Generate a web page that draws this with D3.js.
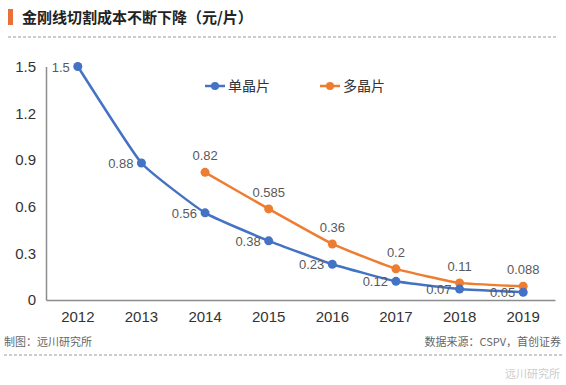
<!DOCTYPE html>
<html>
<head>
<meta charset="utf-8">
<script src="https://cdn.jsdelivr.net/npm/d3@7"></script>
<style>
body { margin: 0; background: #fff; }
svg { font-family: "Noto Sans CJK SC", "Liberation Sans", sans-serif; }
</style>
</head>
<body>
<svg></svg>
<script>
let years = ["2012", "2013", "2014", "2015", "2016", "2017", "2018", "2019"],
mono = [1.5, 0.88, 0.56, 0.38, 0.23, 0.12, 0.07, 0.05],
multi = [null, null, 0.82, 0.585, 0.36, 0.2, 0.11, 0.088],
monoLabels = ["1.5", "0.88", "0.56", "0.38", "0.23", "0.12", "0.07", "0.05"],
multiLabels = ["", "", "0.82", "0.585", "0.36", "0.2", "0.11", "0.088"],
yTicks = [0, 0.3, 0.6, 0.9, 1.2, 1.5],
width = 566,
height = 385,
blue = "#4472C4",
orange = "#ED7D31";

let svg = d3.select("svg")
  .attr("width", width)
  .attr("height", height);

// header
svg.append("rect").attr("x", 8).attr("y", 9).attr("width", 5).attr("height", 16).attr("fill", "#E8703A");
svg.append("text").attr("x", 22).attr("y", 23)
  .attr("font-size", 15).attr("font-weight", "bold").attr("fill", "#222")
  .text("金刚线切割成本不断下降（元/片）");
svg.append("line").attr("x1", 8).attr("x2", 558).attr("y1", 37).attr("y2", 37)
  .attr("stroke", "#999").attr("stroke-dasharray", "3,2");

let xScale = d3.scaleBand().domain(years).range([46, 555]);
let yScale = d3.scaleLinear().domain([0, 1.5]).range([300, 66.5]);
let cx = d => xScale(d) + xScale.bandwidth() / 2;

// axes
let yAxis = d3.axisLeft(yScale).tickValues(yTicks).tickSize(0).tickPadding(10)
  .tickFormat(d => d === 0 ? "0" : d3.format(".1f")(d));
let gy = svg.append("g").attr("transform", "translate(46,0)").call(yAxis);
gy.select(".domain").attr("stroke", "#8c8c8c").attr("stroke-width", 1.5);
gy.selectAll("text").attr("font-size", 15).attr("fill", "#333").attr("font-family", "Liberation Sans, sans-serif");

let xAxis = d3.axisBottom(xScale).tickSize(0).tickPadding(11);
let gx = svg.append("g").attr("transform", "translate(0,300)").call(xAxis);
gx.select(".domain").attr("stroke", "#8c8c8c").attr("stroke-width", 1.5);
gx.selectAll("text").attr("font-size", 15).attr("fill", "#333").attr("font-family", "Liberation Sans, sans-serif");

let line = d3.line()
  .defined(d => d.v != null)
  .x(d => cx(d.year))
  .y(d => yScale(d.v))
  .curve(d3.curveCardinal.tension(0.6));

function drawSeries(vals, labels, color, labelPos) {
  let pts = years.map((y, i) => ({year: y, v: vals[i], label: labels[i]}));
  svg.append("path").datum(pts)
    .attr("d", line)
    .attr("fill", "none")
    .attr("stroke", color)
    .attr("stroke-width", 2.5);
  let valid = pts.filter(d => d.v != null);
  svg.append("g").selectAll("circle")
    .data(valid).enter().append("circle")
    .attr("cx", d => cx(d.year))
    .attr("cy", d => yScale(d.v))
    .attr("r", 4.5)
    .attr("fill", color);
  svg.append("g").selectAll("text")
    .data(valid).enter().append("text")
    .attr("x", d => labelPos === "left" ? cx(d.year) - 8 : cx(d.year))
    .attr("y", d => labelPos === "left" ? yScale(d.v) + 5 : yScale(d.v) - 12)
    .attr("text-anchor", labelPos === "left" ? "end" : "middle")
    .attr("font-size", 13)
    .attr("font-family", "Liberation Sans, sans-serif")
    .attr("fill", "#595959")
    .text(d => d.label);
}

drawSeries(multi, multiLabels, orange, "top");
drawSeries(mono, monoLabels, blue, "left");

// legend
let legend = [{name: "单晶片", color: blue, x: 205}, {name: "多晶片", color: orange, x: 320}];
let lg = svg.append("g").selectAll("g").data(legend).enter().append("g")
  .attr("transform", d => `translate(${d.x},86)`);
lg.append("line").attr("x1", 0).attr("x2", 20).attr("stroke", d => d.color).attr("stroke-width", 2.5);
lg.append("circle").attr("cx", 10).attr("r", 4).attr("fill", d => d.color);
lg.append("text").attr("x", 23).attr("y", 5).attr("font-size", 14).attr("fill", "#333").text(d => d.name);

// footer
svg.append("text").attr("x", 4).attr("y", 346).attr("font-size", 11).attr("fill", "#666").text("制图：远川研究所");
svg.append("text").attr("x", 561).attr("y", 346).attr("text-anchor", "end").attr("font-size", 11).attr("fill", "#666").text("数据来源：CSPV，首创证券");
svg.append("line").attr("x1", 4).attr("x2", 562).attr("y1", 355).attr("y2", 355)
  .attr("stroke", "#999").attr("stroke-dasharray", "3,2");
svg.append("text").attr("x", 560).attr("y", 378).attr("text-anchor", "end").attr("font-size", 11).attr("fill", "#ccc").text("远川研究所");
</script>
</body>
</html>
